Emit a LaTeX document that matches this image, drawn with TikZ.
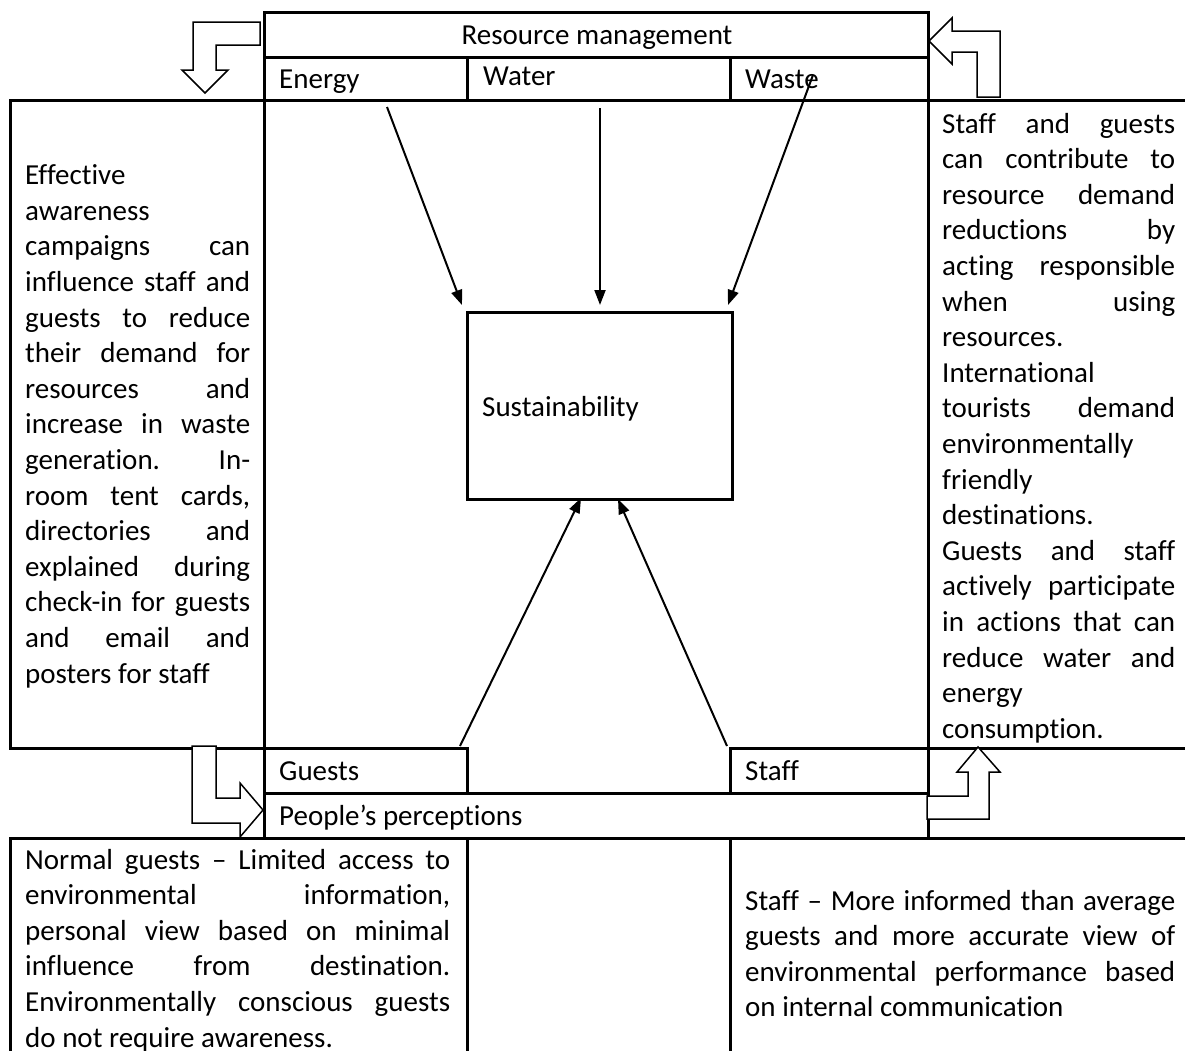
\documentclass[tikz,border=0pt]{standalone}
\usepackage{fontspec}
\setmainfont[Ligatures=NoCommon]{Carlito}
\usetikzlibrary{arrows.meta}

% one justified (spread) line and one plain left line of a text column
\newcommand\jsp[1]{\makebox[\hsize][s]{\spaceskip=0pt\relax\xspaceskip=0pt\relax\strut#1}}
\newcommand\jlf[1]{\makebox[\hsize][l]{\spaceskip=0pt\relax\xspaceskip=0pt\relax\strut#1}}

\tikzset{
  grid/.style={line width=3pt, line cap=rect},
  body/.style={font=\fontsize{29}{35.6}\selectfont},
  label/.style={body, inner sep=0pt, anchor=base west},
  column/.style={body, inner sep=0pt, anchor=north west, align=left},
  flow/.style={line width=2pt, -{Triangle[length=15pt,width=11pt]}},
  bigarrow/.style={draw, line width=1.5pt, fill=white, line join=miter},
  sustbox/.style={draw, line width=3pt, minimum width=265pt, minimum height=187pt, inner sep=0pt}
}

\begin{document}
\begin{tikzpicture}[x=1pt,y=-1pt]
\useasboundingbox (0,0) rectangle (1185,1050);

% table rules
\draw[grid] (264,12) -- (928,12);
\draw[grid] (264,57) -- (928,57);
\draw[grid] (10,100) -- (1185,100);
\draw[grid] (10,748) -- (467,748);
\draw[grid] (730,748) -- (1185,748);
\draw[grid] (264,793) -- (928,793);
\draw[grid] (10,838) -- (1185,838);
\draw[grid] (10,100) -- (10,748);
\draw[grid] (264,12) -- (264,838);
\draw[grid] (928,12) -- (928,838);
\draw[grid] (467,57) -- (467,100);
\draw[grid] (730,57) -- (730,100);
\draw[grid] (467,748) -- (467,793);
\draw[grid] (730,748) -- (730,793);
\draw[grid] (10,838) -- (10,1050);
\draw[grid] (467,838) -- (467,1050);
\draw[grid] (730,838) -- (730,1050);

% header and cell labels
\node[body, inner sep=0pt, anchor=base] (rm) at (597,44) {Resource management};
\node[label] (energy) at (279,88) {Energy};
\node[label] (water) at (483,85) {Water};
\node[label] (waste) at (745,88) {Waste};
\node[label] (guests) at (279,780) {Guests};
\node[label] (staff) at (745,780) {Staff};
\node[label] (percep) at (279,825) {People’s perceptions};

% central box
\node[sustbox] (sus) at (599.5,405.5) {};
\node[label] (susT) at (482,416) {Sustainability};

% flows into the central box
\coordinate (eS) at (387,107);
\coordinate (eT) at (462,305);
\coordinate (wS) at (600,108);
\coordinate (wT) at (600,305);
\coordinate (xS) at (813,75);
\coordinate (xT) at (728,305);
\coordinate (gS) at (460,746);
\coordinate (gT) at (581,498);
\coordinate (sS) at (727,746);
\coordinate (sT) at (618,499);
\draw[flow] (eS) -- (eT);
\draw[flow] (wS) -- (wT);
\draw[flow] (xS) -- (xT);
\draw[flow] (gS) -- (gT);
\draw[flow] (sS) -- (sT);

% bent block arrows
\draw[bigarrow] (260,22) -- (193,22) -- (193,70) -- (182,70) -- (205,93)
  -- (228,70) -- (216,70) -- (216,45) -- (260,45) -- cycle;
\draw[bigarrow] (929,41) -- (952,18) -- (952,31) -- (1000,31) -- (1000,97)
  -- (977,97) -- (977,52) -- (952,52) -- (952,64) -- cycle;
\draw[bigarrow] (192,746) -- (216,746) -- (216,798) -- (240,798) -- (240,783)
  -- (263,810) -- (240,837) -- (240,823) -- (192,823) -- cycle;
\draw[bigarrow] (978,747) -- (1000,772) -- (989,772) -- (989,819) -- (927,819)
  -- (927,796) -- (968,796) -- (968,772) -- (957,772) -- cycle;

% text columns
\node[column, text width=225pt] (leftcol) at (25,159.5) {%
\jlf{Effective}\\
\jlf{awareness}\\
\jsp{campaigns can}\\
\jsp{influence staff and}\\
\jsp{guests to reduce}\\
\jsp{their demand for}\\
\jsp{resources and}\\
\jsp{increase in waste}\\
\jsp{generation. In-}\\
\jsp{room tent cards,}\\
\jsp{directories and}\\
\jsp{explained during}\\
\jsp{check-in for guests}\\
\jsp{and email and}\\
\jlf{posters for staff}};

\node[column, text width=233pt] (rightcol) at (942,108) {%
\jsp{Staff and guests}\\
\jsp{can contribute to}\\
\jsp{resource demand}\\
\jsp{reductions by}\\
\jsp{acting responsible}\\
\jsp{when using}\\
\jlf{resources.}\\
\jlf{International}\\
\jsp{tourists demand}\\
\jlf{environmentally}\\
\jlf{friendly}\\
\jlf{destinations.}\\
\jsp{Guests and staff}\\
\jsp{actively participate}\\
\jsp{in actions that can}\\
\jsp{reduce water and}\\
\jlf{energy}\\
\jlf{consumption.}};

\node[column, text width=425pt] (guestview) at (25,844) {%
\jsp{Normal guests – Limited access to}\\
\jsp{environmental information,}\\
\jsp{personal view based on minimal}\\
\jsp{influence from destination.}\\
\jsp{Environmentally conscious guests}\\
\jlf{do not require awareness.}};

\node[column, text width=430pt] (staffview) at (745,885) {%
\jsp{Staff – More informed than average}\\
\jsp{guests and more accurate view of}\\
\jsp{environmental performance based}\\
\jlf{on internal communication}};

\end{tikzpicture}
\end{document}
